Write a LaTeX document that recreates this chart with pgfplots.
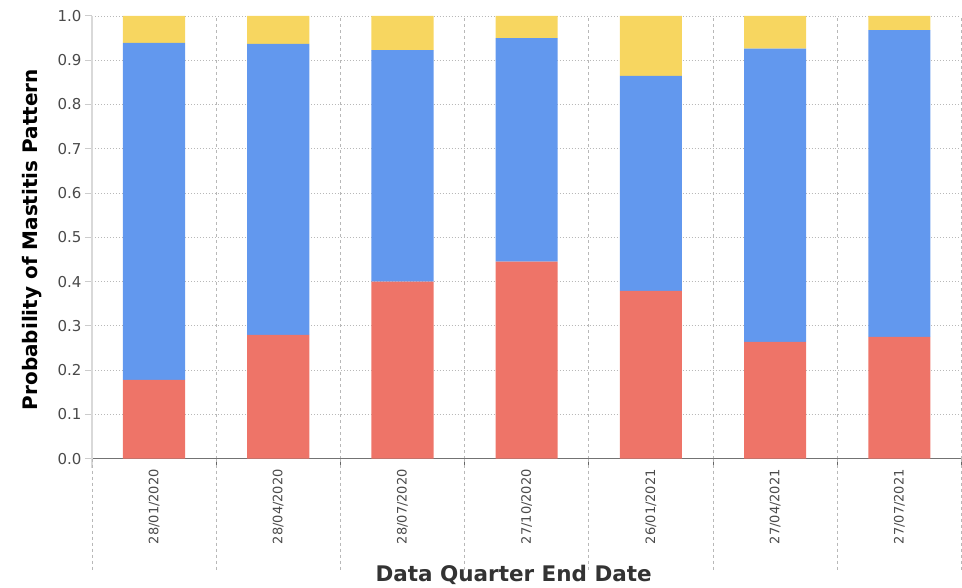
\documentclass[border=0pt]{standalone}
\usepackage{fontspec}
\setmainfont{DejaVu Sans}
\usepackage{pgfplots}
\pgfplotsset{compat=1.18}
\usepackage{pgfplotstable}
\usetikzlibrary{calc}

\definecolor{mred}{HTML}{EE7468}
\definecolor{mblue}{HTML}{6298EE}
\definecolor{myellow}{HTML}{F7D660}
\definecolor{ticktxt}{HTML}{4A4A4A}
\definecolor{gridc}{HTML}{B8B8B8}

% red = lower part, blue = middle, yellow = rest up to 1
\pgfplotstableread{
x red  blue  yellow
0 0.178 0.761 0.061
1 0.280 0.657 0.063
2 0.400 0.523 0.077
3 0.445 0.505 0.050
4 0.379 0.486 0.135
5 0.264 0.662 0.074
6 0.275 0.693 0.032
}\datatab

\begin{document}
\begin{tikzpicture}
\begin{axis}[
    ybar stacked,
    bar width=0.5,
    scale only axis,
    width=870pt, height=443pt,
    xmin=-0.5, xmax=6.5,
    ymin=0, ymax=1,
    clip=false,
    axis x line*=bottom,
    axis y line*=left,
    x axis line style={draw=gray!90!black, line width=1.2pt},
    y axis line style={draw=gray!30, line width=2.5pt, shorten <=-9pt},
    xtick=data,
    xticklabels={28/01/2020,28/04/2020,28/07/2020,27/10/2020,26/01/2021,27/04/2021,27/07/2021},
    x tick label style={rotate=90, anchor=east, font=\fontsize{13}{15}\selectfont, text=ticktxt},
    major x tick style={draw=none},
    minor xtick={-0.5,0.5,...,6.5},
    minor x tick style={draw=gray!80!black, line width=0.8pt},
    xminorgrids,
    minor x grid style={dashed, draw=gridc, line width=0.7pt},
    ytick={0,0.1,...,1.0},
    yticklabel style={/pgf/number format/fixed, /pgf/number format/fixed zerofill,
        /pgf/number format/precision=1, font=\fontsize{15}{17}\selectfont, text=ticktxt},
    /pgf/number format/assume math mode=true,
    y tick style={draw=gray!40, line width=1pt},
    tick align=outside,
    major tick length=7pt,
    minor tick length=9pt,
    ymajorgrids,
    major y grid style={dash pattern=on 1pt off 2pt, draw=gridc, line width=0.8pt},
    xlabel={Data Quarter End Date},
    xlabel style={at={(axis description cs:0.485,0)}, anchor=center, yshift=-116pt,
        font=\fontsize{21.5}{25}\selectfont\bfseries, text=black!80},
    ylabel={Probability of Mastitis Pattern},
    ylabel style={at={(axis description cs:0,0.495)}, anchor=center, yshift=60pt,
        font=\fontsize{20}{24}\selectfont\bfseries, text=black},
]
\pgfplotsinvokeforeach{-0.5,0.5,1.5,2.5,3.5,4.5,5.5,6.5}{
    \draw[dashed, draw=gridc, line width=0.7pt] (axis cs:#1,0) -- ([yshift=-111pt]axis cs:#1,0);
}
\addplot[fill=mred, draw=none] table[x=x, y=red] {\datatab};
\addplot[fill=mblue, draw=none] table[x=x, y=blue] {\datatab};
\addplot[fill=myellow, draw=none] table[x=x, y=yellow] {\datatab};
\end{axis}
\path (current axis.south west) ++(-92pt,-128pt) rectangle ($(current axis.north east)+(0pt,16pt)$);
\end{tikzpicture}
\end{document}
